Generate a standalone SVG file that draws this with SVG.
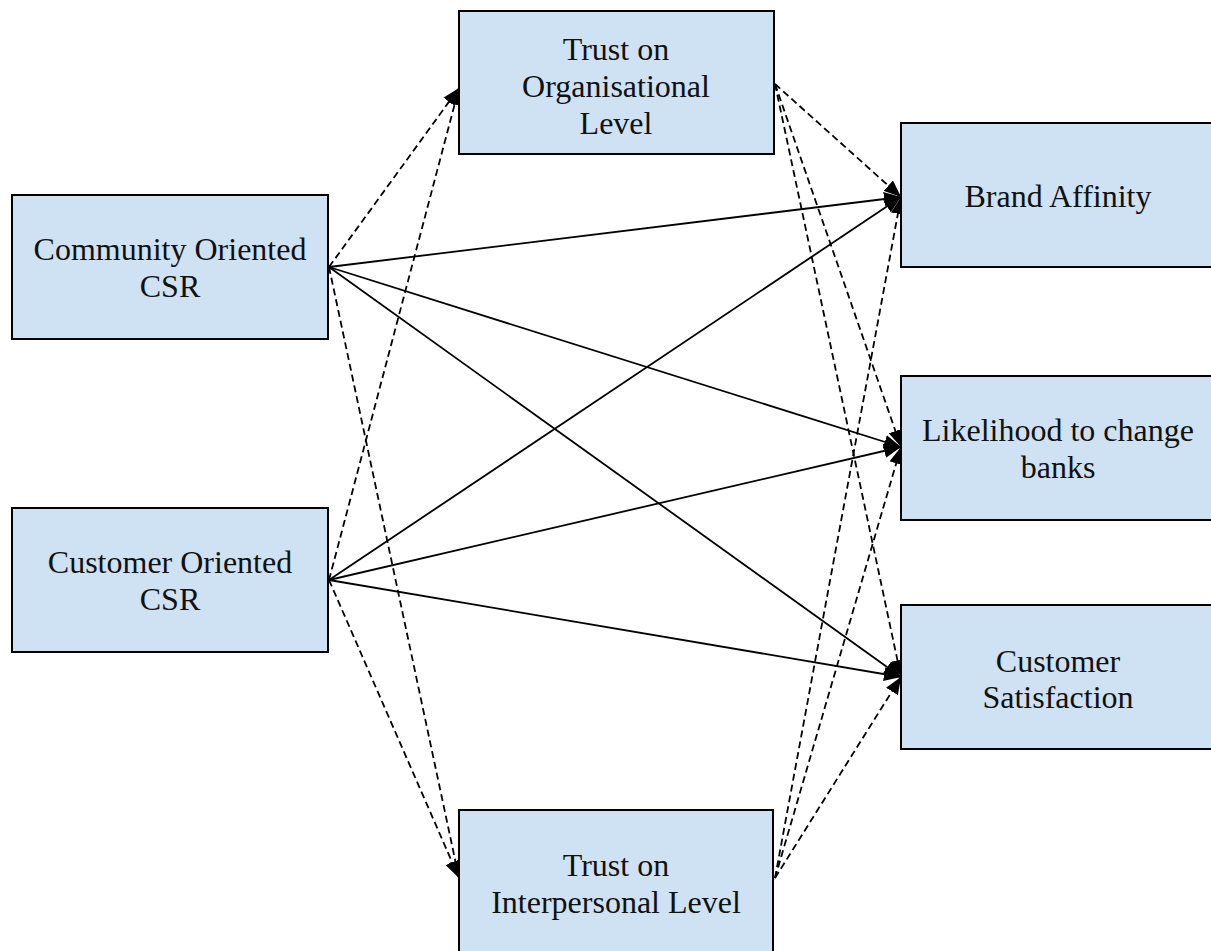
<svg xmlns="http://www.w3.org/2000/svg" width="1211" height="951" viewBox="0 0 1211 951">
<defs>
<style>
.box{fill:#cfe2f3;stroke:#000;stroke-width:2}
.t{font-family:"Liberation Serif","Times New Roman",serif;font-size:32px;fill:#111;text-anchor:middle}
.c{fill:none;stroke:#000;stroke-width:1.8}
.d{stroke-dasharray:7,4}
</style>
<marker id="ah" markerUnits="userSpaceOnUse" markerWidth="18" markerHeight="14" refX="17" refY="7" orient="auto">
<path d="M0,0 L17,7 L0,14 z" fill="#000"/>
</marker>
</defs>
<rect width="1211" height="951" fill="#fff"/>
<g id="connectors">
<line class="c d" x1="329" y1="267" x2="459" y2="88" marker-end="url(#ah)"/>
<line class="c d" x1="329" y1="580" x2="459" y2="88" marker-end="url(#ah)"/>
<line class="c d" x1="329" y1="267" x2="459" y2="878" marker-end="url(#ah)"/>
<line class="c d" x1="329" y1="580" x2="459" y2="878" marker-end="url(#ah)"/>
<line class="c" x1="329" y1="267" x2="901" y2="197" marker-end="url(#ah)"/>
<line class="c" x1="329" y1="267" x2="901" y2="447" marker-end="url(#ah)"/>
<line class="c" x1="329" y1="267" x2="901" y2="677" marker-end="url(#ah)"/>
<line class="c" x1="329" y1="580" x2="901" y2="197" marker-end="url(#ah)"/>
<line class="c" x1="329" y1="580" x2="901" y2="447" marker-end="url(#ah)"/>
<line class="c" x1="329" y1="580" x2="901" y2="677" marker-end="url(#ah)"/>
<line class="c d" x1="775" y1="84" x2="901" y2="197" marker-end="url(#ah)"/>
<line class="c d" x1="775" y1="84" x2="901" y2="447" marker-end="url(#ah)"/>
<line class="c d" x1="775" y1="84" x2="901" y2="677" marker-end="url(#ah)"/>
<line class="c d" x1="775" y1="878" x2="901" y2="197" marker-end="url(#ah)"/>
<line class="c d" x1="775" y1="878" x2="901" y2="447" marker-end="url(#ah)"/>
<line class="c d" x1="775" y1="878" x2="901" y2="677" marker-end="url(#ah)"/>
</g>
<g id="community">
<rect class="box" x="12" y="195" width="316" height="144"/>
<text class="t" x="170" y="260">Community Oriented</text>
<text class="t" x="170" y="297">CSR</text>
</g>
<g id="customer">
<rect class="box" x="12" y="508" width="316" height="144"/>
<text class="t" x="170" y="573">Customer Oriented</text>
<text class="t" x="170" y="610">CSR</text>
</g>
<g id="trust-org">
<rect class="box" x="459" y="11" width="315" height="143"/>
<text class="t" x="616" y="60">Trust on</text>
<text class="t" x="616" y="97">Organisational</text>
<text class="t" x="616" y="134">Level</text>
</g>
<g id="trust-inter">
<rect class="box" x="459" y="810" width="314" height="145"/>
<text class="t" x="616" y="876">Trust on</text>
<text class="t" x="616" y="913">Interpersonal Level</text>
</g>
<g id="brand">
<rect class="box" x="901" y="123" width="312" height="144"/>
<text class="t" x="1058" y="207">Brand Affinity</text>
</g>
<g id="likelihood">
<rect class="box" x="901" y="376" width="312" height="144"/>
<text class="t" x="1058" y="441">Likelihood to change</text>
<text class="t" x="1058" y="478">banks</text>
</g>
<g id="satisfaction">
<rect class="box" x="901" y="605" width="312" height="144"/>
<text class="t" x="1058" y="672">Customer</text>
<text class="t" x="1058" y="708">Satisfaction</text>
</g>
</svg>
